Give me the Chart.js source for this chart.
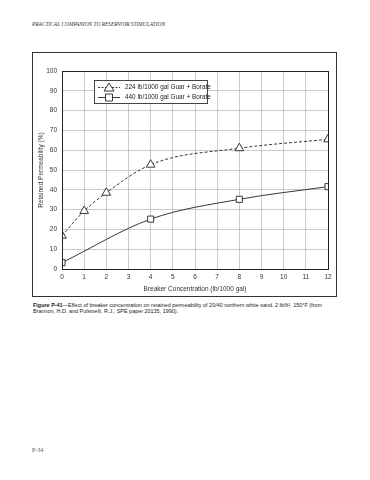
<!DOCTYPE html>
<html lang="en">
<head>
<meta charset="utf-8">
<title>Retained permeability</title>
<script src="https://cdn.jsdelivr.net/npm/chart.js@4.4.0/dist/chart.umd.min.js"></script>
<style>
  html, body { margin: 0; padding: 0; background: #fff; }
  body { width: 370px; height: 480px; position: relative; overflow: hidden; font-family: "Liberation Sans", Arial, sans-serif; color: #222; }
  .header { position: absolute; left: 32px; top: 21px; font-family: "Liberation Serif", serif; font-style: italic; font-size: 5.4px; color: #333; white-space: nowrap; }
  .frame { position: absolute; left: 32px; top: 52px; width: 303px; height: 243px; border: 1px solid #333; }
  #chart-wrap { position: absolute; left: 32px; top: 52px; width: 305px; height: 245px; }
  .legend { position: absolute; left: 94px; top: 80px; width: 112px; height: 22px; border: 1px solid #444; background: #fff; font-size: 6.4px; color: #222; }
  .legend .row { position: absolute; left: 2px; height: 10px; line-height: 10px; white-space: nowrap; }
  .legend canvas { vertical-align: middle; }
  .legend span { position: absolute; left: 28px; top: 0; }
  .caption { position: absolute; left: 33px; top: 303px; font-size: 5.45px; line-height: 5.6px; color: #222; white-space: nowrap; }
  .pageno { position: absolute; left: 32px; top: 447px; font-family: "Liberation Serif", serif; font-size: 6px; color: #555; }
</style>
</head>
<body>
<div class="header">PRACTICAL COMPANION TO RESERVOIR STIMULATION</div>
<div class="frame"></div>
<div id="chart-wrap"><canvas id="chart-area" width="305" height="245"></canvas></div>

<div class="legend">
  <div class="row" style="top:1px"><canvas id="icon1" width="24" height="10"></canvas><span>224 lb/1000 gal Guar + Borate</span></div>
  <div class="row" style="top:11px"><canvas id="icon2" width="24" height="10"></canvas><span>440 lb/1000 gal Guar + Borate</span></div>
</div>

<div class="caption"><b>Figure P-41</b>—Effect of breaker concentration on retained permeability of 20/40 northern white sand, 2 lb/ft², 150°F (from<br>Brannon, H.D. and Pulsinelli, R.J., SPE paper 20135, 1990).</div>
<div class="pageno">P-34</div>

<script>
  // data
  var label224 = '224 lb/1000 gal Guar + Borate';
  var label440 = '440 lb/1000 gal Guar + Borate';
  var conc224 = [0, 1, 2, 4, 8, 12];
  var perm224 = [16.8, 29.3, 38.5, 52.7, 61, 65.5];
  var conc440 = [0, 4, 8, 12];
  var perm440 = [3.2, 25.2, 35.2, 41.6];
  var xTicks = [0, 1, 2, 3, 4, 5, 6, 7, 8, 9, 10, 11, 12];
  var yTicks = [0, 10, 20, 30, 40, 50, 60, 70, 80, 90, 100];

  function toPoints(xs, ys) {
    return xs.map(function (x, i) { return { x: x, y: ys[i] }; });
  }

  var tickFont = { family: '"Liberation Sans", Arial, sans-serif', size: 6.5 };

  // box round the plot area
  var plotBox = {
    id: 'plotBox',
    afterDraw: function (chart) {
      var a = chart.chartArea, c = chart.ctx;
      c.save();
      c.strokeStyle = '#222';
      c.lineWidth = 1;
      c.strokeRect(Math.round(a.left) + 0.5, Math.round(a.top) + 0.5, Math.round(a.right - a.left), Math.round(a.bottom - a.top));
      c.restore();
    }
  };

  var config = {
    type: 'line',
    data: {
      datasets: [{
        label: label224,
        data: toPoints(conc224, perm224),
        borderColor: '#222',
        borderWidth: 0.9,
        borderDash: [3, 2],
        pointStyle: 'triangle',
        pointRadius: 5,
        pointBorderWidth: 0.9,
        pointBackgroundColor: '#fff',
        pointBorderColor: '#222',
        cubicInterpolationMode: 'monotone',
        fill: false
      }, {
        label: label440,
        data: toPoints(conc440, perm440),
        borderColor: '#222',
        borderWidth: 0.9,
        pointStyle: 'rect',
        pointRadius: 4.3,
        pointBorderWidth: 0.9,
        pointBackgroundColor: '#fff',
        pointBorderColor: '#222',
        cubicInterpolationMode: 'monotone',
        fill: false
      }]
    },
    options: {
      responsive: false,
      animation: false,
      layout: { padding: { top: 19, right: 9, left: 0, bottom: 0 } },
      plugins: { legend: { display: false }, tooltip: { enabled: false } },
      scales: {
        x: {
          type: 'linear',
          min: 0, max: 12,
          afterBuildTicks: function (s) { s.ticks = xTicks.map(function (v) { return { value: v }; }); },
          afterFit: function (s) { s.height = 28; },
          grid: { color: '#b4b4b4', lineWidth: 0.7, drawTicks: false },
          border: { color: '#222', width: 1 },
          ticks: { font: tickFont, color: '#333', padding: 4, maxRotation: 0 },
          title: { display: true, text: 'Breaker Concentration (lb/1000 gal)', font: tickFont, color: '#333', padding: { top: 2, bottom: 4 } }
        },
        y: {
          min: 0, max: 100,
          afterBuildTicks: function (s) { s.ticks = yTicks.map(function (v) { return { value: v }; }); },
          afterFit: function (s) { s.width = 30; },
          grid: { color: '#b4b4b4', lineWidth: 0.7, drawTicks: false },
          border: { color: '#222', width: 1 },
          ticks: { font: tickFont, color: '#333', padding: 5 },
          title: { display: true, text: 'Retained Permeability (%)', font: tickFont, color: '#333', padding: { top: 5, bottom: 2 } }
        }
      }
    },
    plugins: [plotBox]
  };

  function drawIcon(id, dashed, marker) {
    var c = document.getElementById(id).getContext('2d');
    c.strokeStyle = '#222';
    c.lineWidth = 0.9;
    if (dashed) c.setLineDash([2, 1.5]);
    c.beginPath(); c.moveTo(1, 5.5); c.lineTo(23, 5.5); c.stroke();
    c.setLineDash([]);
    c.fillStyle = '#fff';
    c.beginPath();
    if (marker === 'triangle') {
      c.moveTo(12, 1); c.lineTo(17, 9); c.lineTo(7, 9); c.closePath();
    } else {
      c.rect(8.5, 2, 7, 7);
    }
    c.fill(); c.stroke();
  }

  window.onload = function () {
    var ctx = document.getElementById('chart-area').getContext('2d');
    window.myChart = new Chart(ctx, config);
    drawIcon('icon1', true, 'triangle');
    drawIcon('icon2', false, 'rect');
  };
</script>
</body>
</html>
